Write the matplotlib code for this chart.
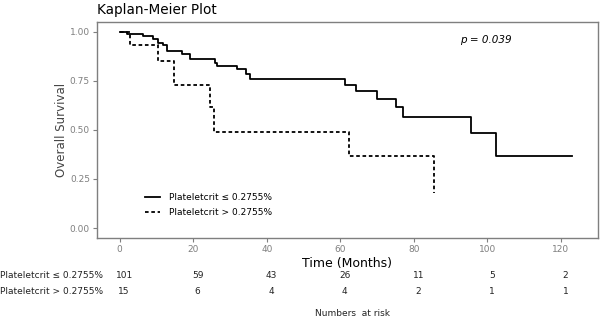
import matplotlib
matplotlib.use("Agg")
import matplotlib.pyplot as plt
import matplotlib.transforms as mtransforms

# step curves
low_times = [0, 2.1, 6.3, 9.0, 10.4, 11.7, 12.8, 16.9, 19.1, 25.9, 26.4, 31.9, 34.3, 35.4,
             61.3, 64.3, 69.9, 75.2, 77.0, 95.6, 102.2, 122.9]
low_surv = [1.0, 0.99, 0.98, 0.965, 0.945, 0.93, 0.90, 0.885, 0.86, 0.84, 0.825, 0.81, 0.785, 0.76,
            0.73, 0.70, 0.655, 0.615, 0.565, 0.485, 0.365, 0.365]

high_times = [0, 2.7, 10.4, 14.8, 24.5, 25.7, 62.4, 85.4]
high_surv = [1.0, 0.933, 0.85, 0.727, 0.615, 0.488, 0.365, 0.18]

risk_times = [0, 20, 40, 60, 80, 100, 120]
risk_low = [101, 59, 43, 26, 11, 5, 2]
risk_high = [15, 6, 4, 4, 2, 1, 1]

group_labels = ["Plateletcrit \u2264 0.2755%", "Plateletcrit > 0.2755%"]
y_ticks = [0.0, 0.25, 0.5, 0.75, 1.0]

fig = plt.figure(figsize=(6.02, 3.18), dpi=100)
ax = fig.add_axes([0.161, 0.252, 0.832, 0.679])

ax.step(low_times, low_surv, where="post", color="black", lw=1.3, label=group_labels[0])
ax.step(high_times, high_surv, where="post", color="black", lw=1.3,
        linestyle=(0, (2, 1.5)), label=group_labels[1])

ax.set_xlim(-6.2, 130)
ax.set_ylim(-0.05, 1.05)
ax.set_xticks(risk_times)
ax.set_yticks(y_ticks)
ax.set_yticklabels(["%.2f" % v for v in y_ticks])
for s in ax.spines.values():
    s.set_color("#7f7f7f")
    s.set_linewidth(1.0)
ax.tick_params(colors="#7f7f7f", labelsize=6.5, length=3, width=0.8, pad=2)

ax.set_xlabel("Time (Months)", fontsize=9, labelpad=2)
ax.set_ylabel("Overall Survival", fontsize=8.5, color="#444444", labelpad=1)
fig.text(0.161, 0.967, "Kaplan-Meier Plot", fontsize=9.8, ha="left", va="center")
ax.text(92.5, 0.96, "p = 0.039", fontsize=7.5, style="italic", ha="left", va="center")

ax.legend(loc="lower left", bbox_to_anchor=(0.08, 0.06), frameon=False, fontsize=6.5,
          handlelength=1.6, handletextpad=1.0, labelspacing=0.6)

# risk table under the axes
trans = mtransforms.blended_transform_factory(ax.transData, fig.transFigure)
row_y = [1 - 276 / 318, 1 - 292 / 318]
for y, lab, counts in zip(row_y, group_labels, [risk_low, risk_high]):
    fig.text(0.0, y, lab, fontsize=6.5, ha="left", va="center", color="#222222")
    for t, n in zip(risk_times, counts):
        fig.text(t + 1.2, y, str(n), fontsize=6.5, ha="center", va="center",
                 color="#222222", transform=trans)
fig.text(352 / 602, 1 - 313 / 318, "Numbers  at risk", fontsize=6.5, ha="center",
         va="center", color="#222222")

fig.savefig("out.png", dpi=100)
